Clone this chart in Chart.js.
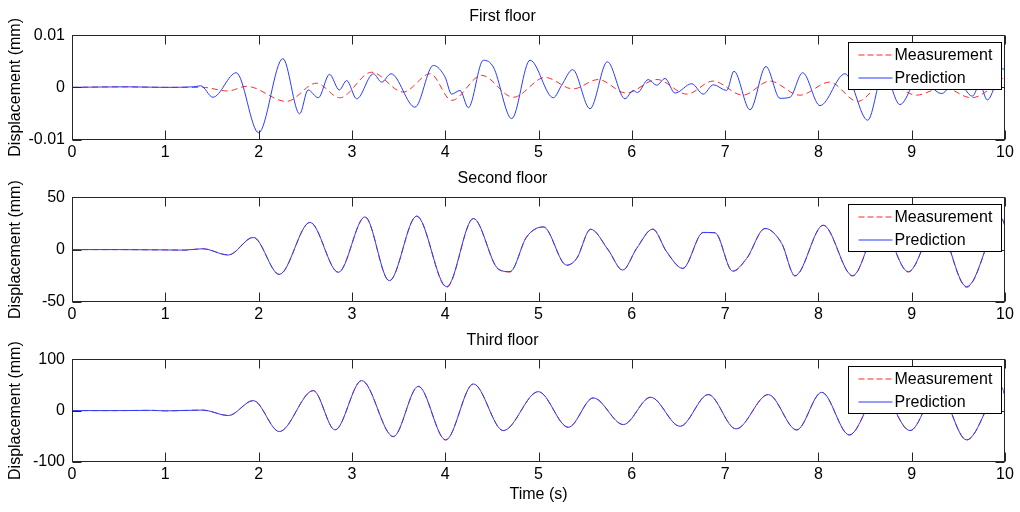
<!DOCTYPE html>
<html>
<head>
<meta charset="utf-8">
<title>Floor displacements</title>
<script src="https://cdn.jsdelivr.net/npm/chart.js@4.4.1/dist/chart.umd.min.js"></script>
<style>
body { margin: 0; background: #fff; }
#wrap { position: relative; width: 1020px; height: 512px; }
canvas { position: absolute; left: 0; }
</style>
</head>
<body>
<div id="wrap">
  <canvas id="floor1" width="1020" height="162" style="top:0px"></canvas>
  <canvas id="floor2" width="1020" height="162" style="top:162px"></canvas>
  <canvas id="floor3" width="1020" height="188" style="top:324px"></canvas>
</div>
<script>
// valores (tiempo en s, desplazamiento en mm)
const timeTicks = [0, 1, 2, 3, 4, 5, 6, 7, 8, 9, 10];
const seriesNames = ["Measurement", "Prediction"];
const seriesColors = ["#ff2a2a", "#2a3cff"];
const floorTitles = ["First floor", "Second floor", "Third floor"];

// primer piso
const t1Meas = [0, 0.5, 1.0, 1.4, 1.67, 1.87, 2.30, 2.62, 2.87, 3.21, 3.55, 3.84, 4.07, 4.39, 4.73, 5.07, 5.37, 5.64, 5.94, 6.27, 6.59, 6.87, 7.19, 7.48, 7.80, 8.12, 8.42, 8.72, 9.05, 9.34, 9.64, 10];
const d1Meas = [0, 0.0001, 0, 0, -0.0007, 0.0002, -0.0027, 0.0008, -0.0020, 0.0029, -0.0009, 0.0026, -0.0025, 0.0023, -0.0019, 0.0019, -0.0003, 0.0015, -0.0011, 0.0015, -0.0013, 0.0012, -0.0015, 0.0012, -0.0015, 0.0010, -0.0027, 0.0012, -0.0015, 0.0000, -0.0020, 0.0020];
const t1Pred = [0, 0.6, 1.0, 1.3, 1.38, 1.51, 1.76, 2.0, 2.26, 2.44,
    2.53, 2.64, 2.76, 2.865, 2.944, 3.051, 3.23, 3.319, 3.419, 3.676,
    3.873, 3.998, 4.069, 4.159, 4.248, 4.409, 4.516, 4.713, 4.909, 5.159,
    5.248, 5.366, 5.552, 5.738, 5.927, 6.016, 6.06, 6.177, 6.267, 6.356,
    6.463, 6.642, 6.766, 6.874, 7.017, 7.095, 7.267, 7.438, 7.588, 7.695,
    7.831, 8.017, 8.285, 8.528, 8.70, 8.874, 9.08, 9.32, 9.48, 9.65,
    9.73, 9.81, 9.98, 10];
const d1Pred = [0, 0.0001, 0, 0.0001, 0.0003, -0.0019, 0.0028, -0.0087, 0.0055, -0.0051,
    -0.0005, -0.0020, 0.0025, -0.0005, 0.0013, -0.0022, 0.0026, 0.0010, 0.0026, -0.0038,
    0.0042, 0.0020, -0.0013, -0.0006, -0.0039, 0.0052, 0.0039, -0.0060, 0.0052, -0.0020,
    0.0004, 0.0034, -0.0041, 0.0049, -0.0022, -0.0006, -0.0010, 0.0015, 0.0004, 0.0017,
    -0.0011, 0.0007, -0.0013, 0.0005, -0.0006, 0.0031, -0.0043, 0.0040, -0.0021, -0.0019,
    0.0028, -0.0035, 0.0026, -0.0063, 0.0030, -0.0033, 0.0020, -0.0012, 0.0015, -0.0017,
    0.0005, -0.0024, 0.0036, 0.0030];

// segundo piso
const t2 = [0, 0.5, 1.0, 1.2, 1.4, 1.676, 1.943, 2.222, 2.551, 2.855,
    3.14, 3.401, 3.694, 4.016, 4.302, 4.57, 4.694, 4.873, 5.052, 5.302,
    5.41, 5.559, 5.748, 5.902, 6.052, 6.224, 6.374, 6.546, 6.766, 6.892,
    7.081, 7.231, 7.428, 7.606, 7.749, 8.052, 8.367, 8.66, 8.964, 9.27,
    9.589, 9.965, 10];
const d2Meas = [0, 0, -0.3, -0.5, 0.8, -5.0, 11.8, -23.8, 26.0, -21.5,
    31.0, -29.9, 32.0, -36.0, 29.5, -18.8, -21.3, 12.0, 21.5, -15.0,
    -8.2, 19.3, -0.3, -19.8, 1.3, 19.7, -2.3, -18.1, 16.2, 16.2,
    -20.8, -8.6, 20.0, 6.1, -25.2, 23.1, -25.2, 25, -21.4, 25,
    -36.0, 29.5, 22];
const d2Pred = [0, 0, -0.3, -0.5, 0.8, -5.2, 11.6, -23.6, 25.9, -21.7,
    31.2, -29.7, 31.9, -35.4, 29.7, -18.6, -21.1, 12.2, 21.7, -14.8,
    -8.4, 19.5, -0.5, -19.5, 1.1, 19.5, -2.1, -17.9, 16.4, 16.0,
    -20.5, -8.4, 20.2, 5.9, -24.9, 23.3, -24.9, 25, -21.1, 25,
    -35.4, 29.7, 22];

// tercer piso
const t3 = [0, 0.5, 0.85, 1.0, 1.4, 1.676, 1.943, 2.222, 2.586, 2.819,
    3.105, 3.444, 3.712, 4.005, 4.302, 4.623, 4.998, 5.32, 5.587, 5.909,
    6.202, 6.517, 6.82, 7.117, 7.463, 7.767, 8.035, 8.331, 8.66, 8.982,
    9.28, 9.589, 9.965, 10];
const d3Meas = [0, 0, 0.5, -0.5, 1.0, -9.5, 19.6, -40.5, 39.0, -37.8,
    58.6, -50.8, 47.0, -57.3, 52.0, -39.0, 36.7, -32.6, 24.8, -27.0,
    26.1, -30.6, 31.3, -35.8, 31.4, -37.7, 35.4, -47.6, 40, -39.0,
    40, -57.2, 45, 29];
const d3Pred = [0, 0, 0.5, -0.5, 1.0, -9.7, 19.4, -40.8, 38.8, -37.5,
    58.3, -50.5, 47.2, -56.9, 51.8, -38.8, 36.9, -32.4, 24.6, -27.2,
    25.9, -30.4, 31.1, -35.6, 31.1, -37.5, 35.6, -47.3, 40, -38.8,
    40, -56.9, 45, 29];

const fuente = "'Liberation Sans', Arial, sans-serif";
Chart.defaults.font.family = fuente;
Chart.defaults.font.size = 16;
Chart.defaults.color = "#000";

function puntos(ts, ds) {
    return ts.map((t, i) => ({ x: t, y: ds[i] }));
}

// caja, marcas hacia adentro y leyenda estilo matlab
const cajaMatlab = {
    id: "cajaMatlab",
    afterDatasetsDraw(chart) {
        const ctx = chart.ctx;
        const a = chart.chartArea;
        const L = Math.round(a.left) + 0.5, R = Math.round(a.right) - 0.5;
        const T = Math.round(a.top) + 0.5, B = Math.round(a.bottom) - 0.5;
        ctx.save();
        ctx.strokeStyle = "#262626";
        ctx.lineWidth = 1;
        ctx.setLineDash([]);
        ctx.beginPath();
        chart.scales.x.ticks.forEach(tk => {
            const px = Math.round(chart.scales.x.getPixelForValue(tk.value)) + 0.5;
            ctx.moveTo(px, B); ctx.lineTo(px, B - 9);
            ctx.moveTo(px, T); ctx.lineTo(px, T + 9);
        });
        chart.scales.y.ticks.forEach(tk => {
            const py = Math.round(chart.scales.y.getPixelForValue(tk.value)) + 0.5;
            ctx.moveTo(L, py); ctx.lineTo(L + 9, py);
            ctx.moveTo(R, py); ctx.lineTo(R - 9, py);
        });
        ctx.stroke();
        ctx.strokeRect(L, T, R - L, B - T);

        // leyenda
        const w = 153, h = 47;
        const lx = Math.round(a.right - 4 - w) + 0.5;
        const ly = Math.round(a.top + 6.5) + 0.5;
        ctx.fillStyle = "#fff";
        ctx.fillRect(lx, ly, w, h);
        ctx.strokeStyle = "#000";
        ctx.strokeRect(lx, ly, w, h);
        ctx.font = "16px " + fuente;
        ctx.textBaseline = "middle";
        seriesNames.forEach((nombre, i) => {
            const yy = Math.round(ly + 12.5 + i * 22.5);
            ctx.beginPath();
            ctx.strokeStyle = seriesColors[i];
            ctx.lineWidth = 1.2;
            ctx.setLineDash(i === 0 ? [6, 3] : []);
            ctx.moveTo(lx + 10, yy);
            ctx.lineTo(lx + 44, yy);
            ctx.stroke();
            ctx.setLineDash([]);
            ctx.fillStyle = "#000";
            ctx.fillText(nombre, lx + 46, yy + 1);
        });
        ctx.restore();
    }
};

function GenerarGraficoPiso(id, titulo, tm, dm, tp, dp, yMin, yMax, paso, alturaX, conTiempo, fmt) {
    const ctx = document.getElementById(id);
    return new Chart(ctx, {
        type: "line",
        data: {
            datasets: [{
                label: seriesNames[0],
                data: puntos(tm, dm),
                borderColor: seriesColors[0],
                borderWidth: 1,
                borderDash: [6, 4],
                pointRadius: 0,
                cubicInterpolationMode: "monotone",
                order: 1
            }, {
                label: seriesNames[1],
                data: puntos(tp, dp),
                borderColor: seriesColors[1],
                borderWidth: 1,
                pointRadius: 0,
                cubicInterpolationMode: "monotone",
                order: 0
            }]
        },
        options: {
            responsive: false,
            animation: false,
            events: [],
            layout: { padding: { left: 0, right: 15, top: 0, bottom: 0 } },
            plugins: {
                legend: { display: false },
                tooltip: { enabled: false },
                title: {
                    display: true,
                    text: titulo,
                    color: "#000",
                    font: { size: 16, weight: "normal" },
                    padding: { top: 7, bottom: 9 }
                }
            },
            scales: {
                x: {
                    type: "linear",
                    min: 0,
                    max: 10,
                    afterBuildTicks: s => { s.ticks = timeTicks.map(v => ({ value: v })); },
                    ticks: { color: "#000", padding: 3, maxRotation: 0, autoSkip: false },
                    grid: { display: false, drawTicks: false },
                    border: { display: false },
                    title: {
                        display: conTiempo,
                        text: "Time (s)",
                        color: "#000",
                        padding: { top: 0, bottom: 8 }
                    },
                    afterFit: s => { s.height = alturaX; }
                },
                y: {
                    min: yMin,
                    max: yMax,
                    ticks: {
                        stepSize: paso,
                        color: "#000",
                        padding: 7,
                        callback: fmt
                    },
                    grid: { display: false, drawTicks: false },
                    border: { display: false },
                    title: {
                        display: true,
                        text: "Displacement (mm)",
                        color: "#000",
                        padding: { top: 6, bottom: 0 }
                    },
                    afterFit: s => { s.width = 72; }
                }
            }
        },
        plugins: [cajaMatlab]
    });
}

GenerarGraficoPiso("floor1", floorTitles[0], t1Meas, d1Meas, t1Pred, d1Pred, -0.01, 0.01, 0.01, 22.5, false,
    v => (Math.abs(v) < 1e-9 ? "0" : v.toFixed(2)));
GenerarGraficoPiso("floor2", floorTitles[1], t2, d2Meas, t2, d2Pred, -50, 50, 50, 22, false,
    v => String(v));
GenerarGraficoPiso("floor3", floorTitles[2], t3, d3Meas, t3, d3Pred, -100, 100, 100, 50, true,
    v => String(v));
</script>
</body>
</html>
